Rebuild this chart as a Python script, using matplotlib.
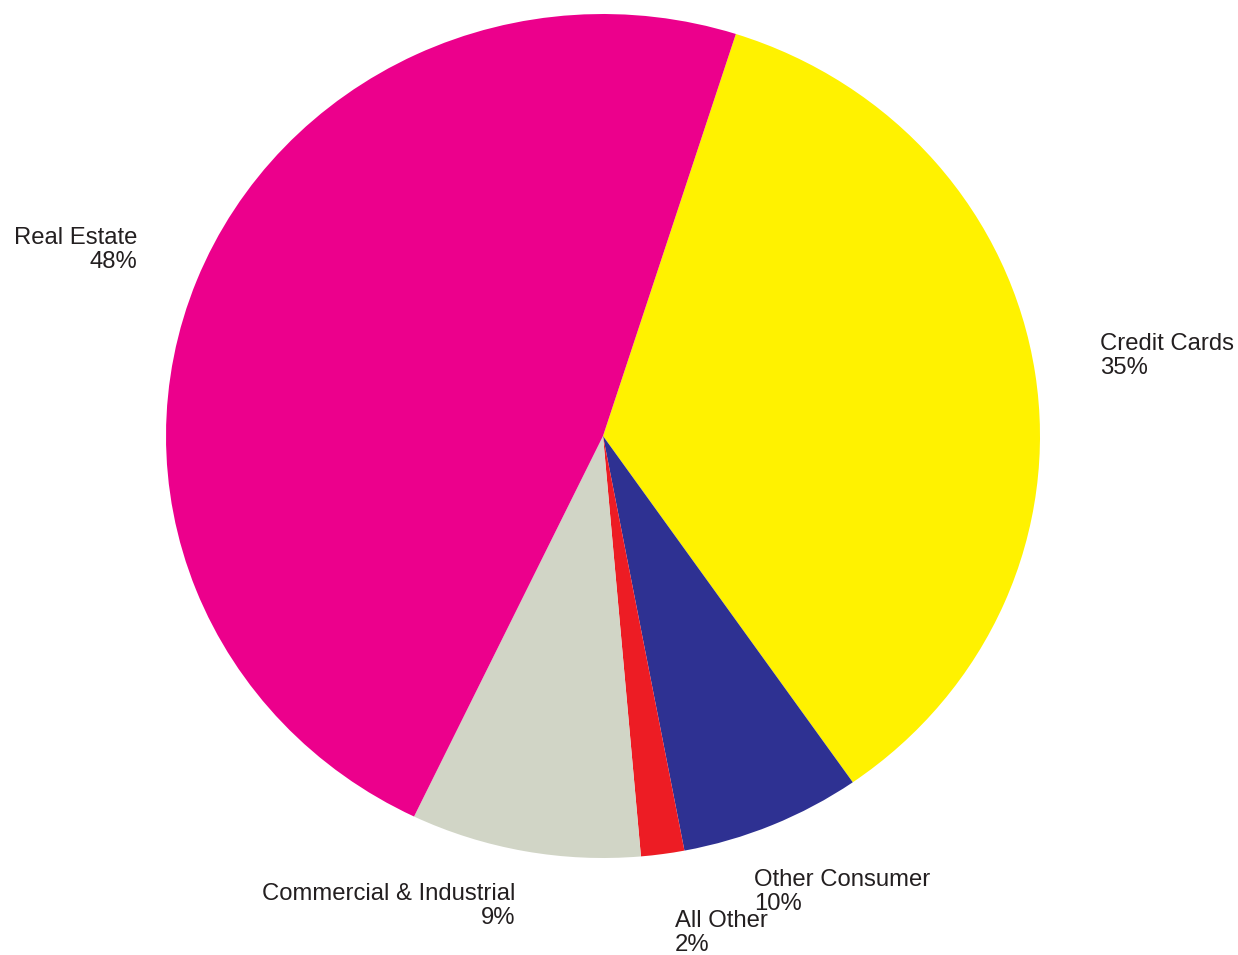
import matplotlib.pyplot as plt

plt.rcParams['font.family'] = ['Liberation Sans', 'DejaVu Sans']

# wedges in clockwise order starting from the top-right boundary
names = ["Credit Cards", "Other Consumer", "All Other", "Commercial & Industrial", "Real Estate"]
shares = [35.4, 6.7, 1.6, 8.5, 47.8]
pct_text = ["35%", "10%", "2%", "9%", "48%"]
colors = ["#FFF200", "#2E3192", "#ED1C24", "#D1D5C6", "#EC008C"]

W, H = 1238, 955
fig = plt.figure(figsize=(W / 100, H / 100), dpi=100)
# pie box in pixels: x 166-1040, y 14-858 (slightly elliptical)
ax = fig.add_axes([166 / W, 1 - 858 / H, 874 / W, 844 / H])
ax.pie(shares, colors=colors, startangle=72.3, counterclock=False,
       wedgeprops=dict(linewidth=0))
ax.set_aspect('auto')
ax.set_xlim(-1, 1)
ax.set_ylim(-1, 1)
ax.axis('off')

# label anchors (pixel x, pixel y centre, alignment)
label_pos = {
    "Credit Cards": (1100, 356, 'left'),
    "Other Consumer": (754, 892, 'left'),
    "All Other": (675, 933, 'left'),
    "Commercial & Industrial": (515, 906, 'right'),
    "Real Estate": (137, 250, 'right'),
}
for name, pct in zip(names, pct_text):
    x, y, ha = label_pos[name]
    fig.text(x / W, 1 - y / H, name + "\n" + pct, ha=ha, va='center',
             multialignment=ha, fontsize=17.2, linespacing=1.1, color="#231F20")

fig.savefig("out.png", dpi=100)
